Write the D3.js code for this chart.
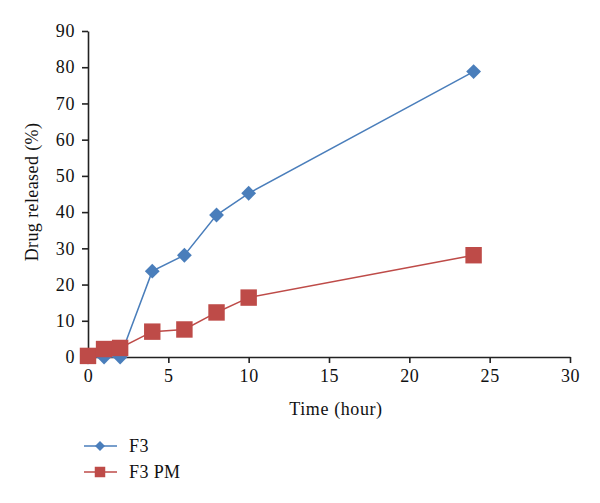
<!DOCTYPE html>
<html><head><meta charset="utf-8">
<script src="https://cdn.jsdelivr.net/npm/d3@7"></script>
<style>body{margin:0;background:#fff}svg{display:block}</style>
</head><body>
<svg id="c" width="600" height="503"></svg>
<script>
const time = [0, 1, 2, 4, 6, 8, 10, 24];
const f3 = [0, 0, 0, 23.7, 28.1, 39.2, 45.2, 78.8];
const f3pm = [0.3, 2.2, 2.5, 7.0, 7.6, 12.3, 16.4, 28.1];
const xTicks = [0, 5, 10, 15, 20, 25, 30];
const yTicks = [0, 10, 20, 30, 40, 50, 60, 70, 80, 90];
const seriesNames = ["F3", "F3 PM"];
const colors = ["#4a7ebb", "#be4b48"];

const svg = d3.select("#c");
const font = "'Liberation Serif', 'Times New Roman', serif";
const fs = 18;
const x = d3.scaleLinear().domain([0, 30]).range([88, 570]);
const y = d3.scaleLinear().domain([0, 90]).range([357, 31]);

const xa = svg.append("g").attr("transform", "translate(0,357)")
  .call(d3.axisBottom(x).tickValues(xTicks).tickSize(6).tickPadding(6).tickSizeOuter(0));
const ya = svg.append("g").attr("transform", "translate(88,0)")
  .call(d3.axisLeft(y).tickValues(yTicks).tickSize(6).tickPadding(7).tickSizeOuter(0));
[xa, ya].forEach(a => {
  a.selectAll("path,line").attr("stroke", "#222").attr("stroke-width", 1.6);
  a.selectAll("text").attr("font-family", font).attr("font-size", fs).attr("fill", "#111")
    .attr("letter-spacing", "0.6px");
});

svg.append("text").attr("x", 336).attr("y", 415).attr("text-anchor", "middle")
  .attr("font-family", font).attr("font-size", fs).attr("letter-spacing", "0.6px")
  .attr("fill", "#111").text("Time (hour)");
svg.append("text").attr("transform", "translate(38,192) rotate(-90)").attr("text-anchor", "middle")
  .attr("font-family", font).attr("font-size", fs).attr("letter-spacing", "0.4px")
  .attr("fill", "#111").text("Drug released (%)");

const series = [f3, f3pm];
const line = d3.line().x((d, i) => x(time[i])).y(d => y(d));
const diamond = d3.symbol().type(d3.symbolSquare).size(110);
const square = d3.symbol().type(d3.symbolSquare).size(270);
series.forEach((s, k) => {
  svg.append("path").datum(s).attr("d", line).attr("fill", "none")
    .attr("stroke", colors[k]).attr("stroke-width", 1.5);
});
series.forEach((s, k) => {
  svg.selectAll(null).data(s).enter().append("path")
    .attr("transform", (d, i) => `translate(${x(time[i])},${y(d)})${k === 0 ? " rotate(45)" : ""}`)
    .attr("d", k === 0 ? diamond : square).attr("fill", colors[k]);
});

// legend
seriesNames.forEach((n, k) => {
  const ly = 446 + k * 26;
  svg.append("line").attr("x1", 84).attr("x2", 117).attr("y1", ly).attr("y2", ly)
    .attr("stroke", colors[k]).attr("stroke-width", 1.5);
  svg.append("path").attr("transform", `translate(100,${ly})${k === 0 ? " rotate(45)" : ""}`)
    .attr("d", d3.symbol().type(d3.symbolSquare).size(k === 0 ? 50 : 110))
    .attr("fill", colors[k]);
  svg.append("text").attr("x", 129).attr("y", ly + 6).attr("font-family", font)
    .attr("font-size", fs).attr("letter-spacing", "0.4px").attr("fill", "#111").text(n);
});
</script>
</body></html>
